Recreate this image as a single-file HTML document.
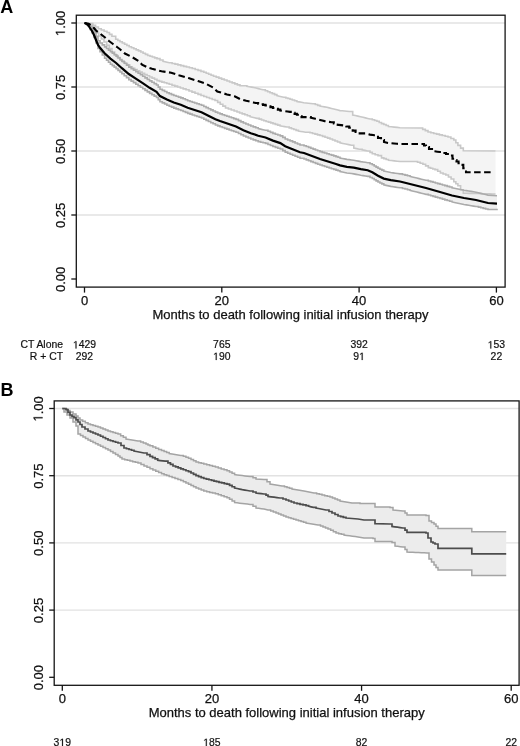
<!DOCTYPE html>
<html><head><meta charset="utf-8"><style>
html,body{margin:0;padding:0;background:#fff;width:520px;height:746px;overflow:hidden}
svg{display:block;filter:grayscale(1)}
text{font-family:"Liberation Sans",sans-serif;fill:#111}
.tl{font-size:13px;stroke:#111;stroke-width:0.25px}
.rk{font-size:10.4px;stroke:#111;stroke-width:0.2px}
.tlp{fill:#111;stroke:#111;stroke-width:0.25px;vector-effect:non-scaling-stroke}
.rkp{fill:#111;stroke:#111;stroke-width:0.2px;vector-effect:non-scaling-stroke}
.pl{font-size:18px;font-weight:bold;fill:#000}
</style></head><body>
<svg width="520" height="746" viewBox="0 0 520 746">
<rect width="520" height="746" fill="#fff"/>
<line x1="76.3" y1="23.00" x2="505.1" y2="23.00" stroke="#e2e2e2" stroke-width="1.4"/>
<line x1="76.3" y1="87.00" x2="505.1" y2="87.00" stroke="#e2e2e2" stroke-width="1.4"/>
<line x1="76.3" y1="151.00" x2="505.1" y2="151.00" stroke="#e2e2e2" stroke-width="1.4"/>
<line x1="76.3" y1="215.00" x2="505.1" y2="215.00" stroke="#e2e2e2" stroke-width="1.4"/>
<polygon points="84.5,23 90,23.5 92.8,23.5 92.8,25.2333 95.6,25.2333 95.6,26.9667 98.4,26.9667 98.4,28.7 101.267,28.7 101.267,29.9667 104.133,29.9667 104.133,31.2333 107,31.2333 107,32.5 109.45,32.5 109.45,34.4 111.9,34.4 111.9,36.3 115.7,36.3 115.7,39.2 117.85,39.2 117.85,40.45 120,40.45 120,41.7 122.3,41.7 122.3,42.95 124.6,42.95 124.6,44.2 126.9,44.2 126.9,45.45 129.2,45.45 129.2,46.7 131.525,46.7 131.525,47.75 133.85,47.75 133.85,48.8 136.175,48.8 136.175,49.85 138.5,49.85 138.5,50.9 140.8,50.9 140.8,52.05 143.1,52.05 143.1,53.2 145.4,53.2 145.4,54.35 147.7,54.35 147.7,55.5 150.025,55.5 150.025,56.275 152.35,56.275 152.35,57.05 154.675,57.05 154.675,57.825 157,57.825 157,58.6 160,58.6 160,59.95 163,59.95 163,61.3 165.067,61.7667 167.133,62.2333 169.2,62.7 172.1,62.7 172.1,63.425 175,63.425 175,64.15 177.9,64.15 177.9,64.875 180.8,64.875 180.8,65.6 183.675,65.6 183.675,66.325 186.55,66.325 186.55,67.05 189.425,67.05 189.425,67.775 192.3,67.775 192.3,68.5 195.175,68.5 195.175,69.45 198.05,69.45 198.05,70.4 200.925,70.4 200.925,71.35 203.8,71.35 203.8,72.3 206.225,72.3 206.225,73.275 208.65,73.275 208.65,74.25 211.075,74.25 211.075,75.225 213.5,75.225 213.5,76.2 216.2,76.2 216.2,77.16 218.9,77.16 218.9,78.12 221.6,78.12 221.6,79.08 224.3,79.08 224.3,80.04 227,80.04 227,81 229.6,81 229.6,81.96 232.2,81.96 232.2,82.92 234.8,82.92 234.8,83.88 237.4,83.88 237.4,84.84 240,84.84 240,85.8 246.9,85.8 246.9,86.4 249.2,86.7667 251.5,87.1333 253.8,87.5 256.1,88.075 258.4,88.65 260.7,89.225 263,89.8 265.333,89.8 265.333,90.7667 267.667,90.7667 267.667,91.7333 270,91.7333 270,92.7 272.3,92.7 272.3,93.6667 274.6,93.6667 274.6,94.6333 276.9,94.6333 276.9,95.6 279.2,96.1667 281.5,96.7333 283.8,97.3 285.867,97.3 285.867,97.9333 287.933,97.9333 287.933,98.5667 290,98.5667 290,99.2 292.3,99.2 292.3,99.9667 294.6,99.9667 294.6,100.733 296.9,100.733 296.9,101.5 299.2,101.9 301.5,102.3 303.8,102.7 306.1,102.975 308.4,103.25 310.7,103.525 313,103.8 315.333,103.8 315.333,104.567 317.667,104.567 317.667,105.333 320,105.333 320,106.1 322.3,106.5 324.6,106.9 326.9,107.3 329.2,107.867 331.5,108.433 333.8,109 335.867,109.533 337.933,110.067 340,110.6 342.3,110.825 344.6,111.05 346.9,111.275 349.2,111.5 352.7,111.5 352.7,115 355.3,115.575 357.9,116.15 360.5,116.725 363.1,117.3 365.4,117.867 367.7,118.433 370,119 372.3,119 372.3,119.767 374.6,119.767 374.6,120.533 376.9,120.533 376.9,121.3 379.2,121.3 379.2,122.45 381.5,122.45 381.5,123.6 383.8,123.6 383.8,124.567 386.1,124.567 386.1,125.533 388.4,125.533 388.4,126.5 391.3,126.8 394.2,127.1 397.1,127.4 400,127.7 420,128 422.667,128 422.667,129.333 425.333,129.333 425.333,130.667 428,130.667 428,132 430.857,132 430.857,132.714 433.714,132.714 433.714,133.429 436.571,133.429 436.571,134.143 439.429,134.143 439.429,134.857 442.286,134.857 442.286,135.571 445.143,135.571 445.143,136.286 448,136.286 448,137 450.9,137 450.9,138.5 453.8,138.5 453.8,140 455.85,140 455.85,142.7 457.9,142.7 457.9,145.4 460.6,145.4 460.6,148.1 463.3,148.1 463.3,150.8 495.5,151 495.5,194 492.573,193.927 489.645,193.855 486.718,193.782 483.791,193.709 480.864,193.636 477.936,193.564 475.009,193.491 472.082,193.418 469.155,193.345 466.227,193.273 463.3,193.2 463.3,189.8 460.6,189.8 460.6,185.8 457.9,185.8 457.9,183.75 455.85,183.75 455.85,181.7 453.8,181.7 453.8,179 451.1,179 451.1,177 448.45,177 448.45,175 445.8,175 445.8,174 443.1,174 443.1,173 440.4,173 440.4,171.3 437.7,171.3 437.7,169.6 435,169.6 435,168.933 432.767,168.933 432.767,168.267 430.533,168.267 430.533,167.6 428.3,167.6 428.3,165.9 425.6,165.9 425.6,164.2 422.9,164.2 422.9,163.2 420.2,163.2 420.2,162.2 417.5,162.2 417.5,161.5 400,161.5 397.125,161.175 394.25,160.85 391.375,160.525 388.5,160.2 388.5,159.433 386.167,159.433 386.167,158.667 383.833,158.667 383.833,157.9 381.5,157.9 381.5,155.6 378,155.6 378,154.7 375.15,154.7 375.15,153.8 372.3,153.8 372.3,152.4 370,152.4 370,151 367.7,151 364.92,150.4 362.14,149.8 362.14,149.2 359.36,149.2 356.58,148.6 353.8,148 353.8,145.2 351.5,145.2 348.625,144.625 345.75,144.05 342.875,143.475 340,142.9 340,141.925 337.5,141.925 337.5,140.95 335,140.95 335,139.975 332.5,139.975 332.5,139 330,139 330,138.125 327.5,138.125 327.5,137.25 325,137.25 325,136.375 322.5,136.375 322.5,135.5 320,135.5 320,134.825 317.5,134.825 317.5,134.15 315,134.15 315,133.475 312.5,133.475 312.5,132.8 310,132.8 310,132.2 305.4,132.2 303.067,131.833 300.733,131.467 298.4,131.1 298.4,130.333 296.1,130.333 296.1,129.567 293.8,129.567 293.8,128.8 291.5,128.8 291.5,127.9 289.2,127.9 289.2,127 286.9,127 284.6,126.633 282.3,126.267 280,125.9 280,125.133 277.667,125.133 277.667,124.367 275.333,124.367 275.333,123.6 273,123.6 273,122.875 270.7,122.875 270.7,122.15 268.4,122.15 268.4,121.425 266.1,121.425 266.1,120.7 263.8,120.7 263.8,119.933 261.5,119.933 261.5,119.167 259.2,119.167 259.2,118.4 256.9,118.4 254.6,117.833 252.3,117.267 250,116.7 250,115.76 247.4,115.76 247.4,114.82 244.8,114.82 244.8,113.88 242.2,113.88 242.2,112.94 239.6,112.94 239.6,112 237,112 237,111 234.125,111 234.125,110 231.25,110 231.25,109 228.375,109 228.375,108 225.5,108 225.5,106.125 222.875,106.125 222.875,104.25 220.25,104.25 220.25,102.375 217.625,102.375 217.625,100.5 215,100.5 215,99.5 212.2,99.5 212.2,98.5 209.4,98.5 209.4,97.5 206.6,97.5 206.6,96.5 203.8,96.5 203.8,95.5 201,95.5 201,94.36 198,94.36 198,93.22 195,93.22 195,92.08 192,92.08 192,90.94 189,90.94 189,89.8 186,89.8 186,88.8833 183.2,88.8833 183.2,87.9667 180.4,87.9667 180.4,87.05 177.6,87.05 177.6,86.1333 174.8,86.1333 174.8,85.2167 172,85.2167 172,84.3 169.2,84.3 169.2,83.56 166.76,83.56 166.76,82.82 164.32,82.82 164.32,82.08 161.88,82.08 161.88,81.34 159.44,81.34 159.44,80.6 157,80.6 157,79.38 154.52,79.38 154.52,78.16 152.04,78.16 152.04,76.94 149.56,76.94 149.56,75.72 147.08,75.72 147.08,74.5 144.6,74.5 144.6,73.26 142.14,73.26 142.14,72.02 139.68,72.02 139.68,70.78 137.22,70.78 137.22,69.54 134.76,69.54 134.76,68.3 132.3,68.3 132.3,66.7 129.84,66.7 129.84,65.1 127.38,65.1 127.38,63.5 124.92,63.5 124.92,61.9 122.46,61.9 122.46,60.3 120,60.3 120,57.5333 117.333,57.5333 117.333,54.7667 114.667,54.7667 114.667,52 112,52 112,48.6667 109.333,48.6667 109.333,45.3333 106.667,45.3333 106.667,42 104,42 104,39 101.333,39 101.333,36 98.6667,36 98.6667,33 96,33 96,29 93,29 93,25 90,25 90,24 87.25,24 87.25,23 84.5,23" fill="#f4f4f4"/>
<polygon points="84.5,23 86,23.0295 88,23.0295 88,23.9023 90,23.9023 90,26.275 92,26.275 92,28.6477 94,28.6477 94,32.0205 96,32.0205 96,36.3932 98,36.3932 98,40.7659 100,40.7659 100,42.9386 102.3,42.9386 102.3,44.9173 104.6,44.9173 104.6,46.8959 106.533,46.8959 106.533,48.4973 108.467,48.4973 108.467,50.0986 110.4,50.0986 110.4,51.7 112.3,51.7 112.3,53.1667 114.2,53.1667 114.2,54.6333 116.1,54.6333 116.1,56.1 118.033,56.1 118.033,57.8333 119.967,57.8333 119.967,59.5667 121.9,59.5667 121.9,61.3 124.2,61.3 124.2,63.2333 126.5,63.2333 126.5,65.1667 128.8,65.1667 128.8,67.1 131.133,67.1 131.133,68.6333 133.467,68.6333 133.467,70.1667 135.8,70.1667 135.8,71.7 138.1,71.7 138.1,73.2333 140.4,73.2333 140.4,74.7667 142.7,74.7667 142.7,76.3 145,76.3 145,77.8333 147.3,77.8333 147.3,79.3667 149.6,79.3667 149.6,80.9 151.9,80.9 151.9,82.2667 154.2,82.2667 154.2,83.6333 156.5,83.6333 156.5,85 158.25,85 158.25,87.1 160,87.1 160,89.2 162.3,89.2 162.3,90.3599 164.6,90.3599 164.6,91.5198 166.9,91.5198 166.9,92.6797 169.2,92.6797 169.2,93.6396 171.5,93.6396 171.5,94.5995 173.8,94.5995 173.8,95.5594 176.133,95.5594 176.133,96.3192 178.467,96.3192 178.467,97.079 180.8,97.079 180.8,97.8388 183.1,97.8388 183.1,98.7987 185.4,98.7987 185.4,99.7586 187.7,99.7586 187.7,100.719 190,100.719 190,101.478 192.3,101.478 192.3,102.238 194.6,102.238 194.6,102.998 196.9,102.998 196.9,103.758 199.2,103.758 199.2,104.518 201.5,104.518 201.5,105.278 203.8,105.278 203.8,106.438 206.1,106.438 206.1,107.598 208.4,107.598 208.4,108.758 210.733,108.758 210.733,109.884 213.067,109.884 213.067,111.011 215.4,111.011 215.4,112.137 217.7,112.137 217.7,113.03 220,113.03 220,113.924 222.286,113.924 222.286,114.703 224.571,114.703 224.571,115.482 226.857,115.482 226.857,116.261 229.143,116.261 229.143,117.039 231.429,117.039 231.429,117.818 233.714,117.818 233.714,118.597 236,118.597 236,119.376 238.467,119.376 238.467,120.603 240.933,120.603 240.933,121.829 243.4,121.829 243.4,123.055 245.867,123.055 245.867,124.047 248.333,124.047 248.333,125.04 250.8,125.04 250.8,126.033 253.267,126.033 253.267,126.859 255.733,126.859 255.733,127.685 258.2,127.685 258.2,128.511 260.633,129.104 263.067,129.697 265.5,130.29 267.967,130.29 267.967,131.316 270.433,131.316 270.433,132.342 272.9,132.342 272.9,133.368 275.367,133.368 275.367,134.194 277.833,134.194 277.833,135.02 280.3,135.02 280.3,135.846 282.75,135.846 282.75,137.389 285.2,137.389 285.2,138.932 287.667,138.932 287.667,139.925 290.133,139.925 290.133,140.917 292.6,140.917 292.6,141.91 295.067,141.91 295.067,142.936 297.533,142.936 297.533,143.962 300,143.962 300,144.988 304,144.988 304,145.676 306.286,145.676 306.286,146.527 308.571,146.527 308.571,147.377 310.857,147.377 310.857,148.228 313.143,148.228 313.143,149.078 315.429,149.078 315.429,149.929 317.714,149.929 317.714,150.779 320,150.779 320,151.629 322.286,151.629 322.286,152.337 324.571,152.337 324.571,153.045 326.857,153.045 326.857,153.752 329.143,153.752 329.143,154.46 331.429,154.46 331.429,155.167 333.714,155.167 333.714,155.875 336,155.875 336,156.582 338,156.582 338,157.276 340,157.276 340,157.971 342.3,158.43 344.6,158.89 346.9,159.35 349.2,159.644 351.5,159.937 353.8,160.23 356.133,160.69 358.467,161.15 360.8,161.609 363.1,161.969 365.4,162.329 367.7,162.689 370,162.689 370,163.732 372.3,163.732 372.3,164.776 374.2,164.776 374.2,165.937 376.1,165.937 376.1,167.098 378,167.098 378,168.259 379.933,168.259 379.933,169.186 381.867,169.186 381.867,170.114 383.8,170.114 383.8,171.042 386.133,171.535 388.467,172.028 390.8,172.521 393.1,172.864 395.4,173.208 397.7,173.551 400,173.894 402.5,173.894 402.5,174.512 405,174.512 405,175.129 407.5,175.129 407.5,175.747 410,175.747 410,176.365 412.286,176.929 414.571,177.494 416.857,178.059 419.143,178.624 421.429,179.188 423.714,179.753 426,180.318 428.333,180.318 428.333,180.977 430.667,180.977 430.667,181.637 433,181.637 433,182.297 435.333,182.297 435.333,182.957 437.667,182.957 437.667,183.617 440,183.617 440,184.276 442.4,184.276 442.4,184.969 444.8,184.969 444.8,185.662 447.2,185.662 447.2,186.355 449.6,186.355 449.6,187.048 452,187.048 452,187.741 454.4,188.234 456.8,188.727 459.2,189.22 461.6,189.713 464,190.206 466.4,190.599 468.8,190.992 471.2,191.385 473.6,191.778 476,192.171 478.4,192.764 480.8,193.356 483.2,193.949 485.6,194.542 488,195.135 497,195.709 497,210.191 497,209.565 488,209.565 488,208.958 485.6,208.958 485.6,208.351 483.2,208.351 483.2,207.744 480.8,207.744 480.8,207.136 478.4,207.136 478.4,206.529 476,206.529 473.6,206.122 471.2,205.715 468.8,205.308 466.4,204.901 464,204.494 461.6,203.987 459.2,203.48 456.8,202.973 454.4,202.466 452,201.959 452,201.252 449.6,201.252 449.6,200.545 447.2,200.545 447.2,199.838 444.8,199.838 444.8,199.131 442.4,199.131 442.4,198.424 440,198.424 440,197.75 437.667,197.75 437.667,197.076 435.333,197.076 435.333,196.403 433,196.403 433,195.729 430.667,195.729 430.667,195.056 428.333,195.056 428.333,194.382 426,194.382 423.714,193.804 421.429,193.226 419.143,192.648 416.857,192.07 414.571,191.492 412.286,190.913 410,190.335 410,189.703 407.5,189.703 407.5,189.071 405,189.071 405,188.438 402.5,188.438 402.5,187.806 400,187.806 397.7,187.449 395.4,187.092 393.1,186.736 390.8,186.379 388.467,185.872 386.133,185.365 383.8,184.858 383.8,183.919 381.867,183.919 381.867,182.98 379.933,182.98 379.933,182.041 378,182.041 378,180.869 376.1,180.869 376.1,179.697 374.2,179.697 374.2,178.524 372.3,178.524 372.3,177.468 370,177.468 370,176.411 367.7,176.411 365.4,176.037 363.1,175.664 360.8,175.291 358.467,174.817 356.133,174.344 353.8,173.87 351.5,173.563 349.2,173.256 346.9,172.95 344.6,172.476 342.3,172.003 340,171.529 340,170.824 338,170.824 338,170.118 336,170.118 336,169.397 333.714,169.397 333.714,168.676 331.429,168.676 331.429,167.955 329.143,167.955 329.143,167.234 326.857,167.234 326.857,166.513 324.571,166.513 324.571,165.792 322.286,165.792 322.286,165.071 320,165.071 320,164.207 317.714,164.207 317.714,163.343 315.429,163.343 315.429,162.479 313.143,162.479 313.143,161.615 310.857,161.615 310.857,160.751 308.571,160.751 308.571,159.887 306.286,159.887 306.286,159.024 304,159.024 304,158.312 300,158.312 300,157.271 297.533,157.271 297.533,156.231 295.067,156.231 295.067,155.19 292.6,155.19 292.6,154.183 290.133,154.183 290.133,153.175 287.667,153.175 287.667,152.168 285.2,152.168 285.2,150.611 282.75,150.611 282.75,149.054 280.3,149.054 280.3,148.213 277.833,148.213 277.833,147.373 275.367,147.373 275.367,146.532 272.9,146.532 272.9,145.491 270.433,145.491 270.433,144.451 267.967,144.451 267.967,143.41 265.5,143.41 265.5,142.803 263.067,142.803 263.067,142.196 260.633,142.196 260.633,141.589 258.2,141.589 258.2,140.748 255.733,140.748 255.733,139.908 253.267,139.908 253.267,139.067 250.8,139.067 250.8,138.06 248.333,138.06 248.333,137.053 245.867,137.053 245.867,136.045 243.4,136.045 243.4,134.805 240.933,134.805 240.933,133.564 238.467,133.564 238.467,132.324 236,132.324 236,131.531 233.714,131.531 233.714,130.739 231.429,130.739 231.429,129.946 229.143,129.946 229.143,129.154 226.857,129.154 226.857,128.361 224.571,128.361 224.571,127.569 222.286,127.569 222.286,126.776 220,126.776 220,125.87 217.7,125.87 217.7,124.963 215.4,124.963 215.4,123.823 213.067,123.823 213.067,122.683 210.733,122.683 210.733,121.542 208.4,121.542 208.4,120.369 206.1,120.369 206.1,119.195 203.8,119.195 203.8,118.022 201.5,118.022 201.5,117.249 199.2,117.249 199.2,116.475 196.9,116.475 196.9,115.702 194.6,115.702 194.6,114.928 192.3,114.928 192.3,114.155 190,114.155 190,113.381 187.7,113.381 187.7,112.408 185.4,112.408 185.4,111.435 183.1,111.435 183.1,110.461 180.8,110.461 180.8,109.688 178.467,109.688 178.467,108.914 176.133,108.914 176.133,108.141 173.8,108.141 173.8,107.167 171.5,107.167 171.5,106.194 169.2,106.194 169.2,105.22 166.9,105.22 166.9,104.047 164.6,104.047 164.6,102.873 162.3,102.873 162.3,101.7 160,101.7 160,99.6 158.25,99.6 158.25,97.5 156.5,97.5 156.5,96.1333 154.2,96.1333 154.2,94.7667 151.9,94.7667 151.9,93.4 149.6,93.4 149.6,91.8667 147.3,91.8667 147.3,90.3333 145,90.3333 145,88.8 142.7,88.8 142.7,87.2667 140.4,87.2667 140.4,85.7333 138.1,85.7333 138.1,84.2 135.8,84.2 135.8,82.6667 133.467,82.6667 133.467,81.1333 131.133,81.1333 131.133,79.6 128.8,79.6 128.8,77.6667 126.5,77.6667 126.5,75.7333 124.2,75.7333 124.2,73.8 121.9,73.8 121.9,72.0667 119.967,72.0667 119.967,70.3333 118.033,70.3333 118.033,68.6 116.1,68.6 116.1,67.1333 114.2,67.1333 114.2,65.6667 112.3,65.6667 112.3,64.2 110.4,64.2 110.4,62.2388 108.467,62.2388 108.467,60.2776 106.533,60.2776 106.533,58.3164 104.6,58.3164 104.6,55.0309 102.3,55.0309 102.3,51.7455 100,51.7455 100,48.4364 98,48.4364 98,42.9273 96,42.9273 96,37.4182 94,37.4182 94,32.9091 92,32.9091 92,29.4 90,29.4 90,25.8909 88,25.8909 88,23.8818 86,23.8818 86,23 84.5,23" fill="#efefef"/>
<polyline points="84.5,23 90,23.5 92.8,23.5 92.8,25.2333 95.6,25.2333 95.6,26.9667 98.4,26.9667 98.4,28.7 101.267,28.7 101.267,29.9667 104.133,29.9667 104.133,31.2333 107,31.2333 107,32.5 109.45,32.5 109.45,34.4 111.9,34.4 111.9,36.3 115.7,36.3 115.7,39.2 117.85,39.2 117.85,40.45 120,40.45 120,41.7 122.3,41.7 122.3,42.95 124.6,42.95 124.6,44.2 126.9,44.2 126.9,45.45 129.2,45.45 129.2,46.7 131.525,46.7 131.525,47.75 133.85,47.75 133.85,48.8 136.175,48.8 136.175,49.85 138.5,49.85 138.5,50.9 140.8,50.9 140.8,52.05 143.1,52.05 143.1,53.2 145.4,53.2 145.4,54.35 147.7,54.35 147.7,55.5 150.025,55.5 150.025,56.275 152.35,56.275 152.35,57.05 154.675,57.05 154.675,57.825 157,57.825 157,58.6 160,58.6 160,59.95 163,59.95 163,61.3 165.067,61.7667 167.133,62.2333 169.2,62.7 172.1,62.7 172.1,63.425 175,63.425 175,64.15 177.9,64.15 177.9,64.875 180.8,64.875 180.8,65.6 183.675,65.6 183.675,66.325 186.55,66.325 186.55,67.05 189.425,67.05 189.425,67.775 192.3,67.775 192.3,68.5 195.175,68.5 195.175,69.45 198.05,69.45 198.05,70.4 200.925,70.4 200.925,71.35 203.8,71.35 203.8,72.3 206.225,72.3 206.225,73.275 208.65,73.275 208.65,74.25 211.075,74.25 211.075,75.225 213.5,75.225 213.5,76.2 216.2,76.2 216.2,77.16 218.9,77.16 218.9,78.12 221.6,78.12 221.6,79.08 224.3,79.08 224.3,80.04 227,80.04 227,81 229.6,81 229.6,81.96 232.2,81.96 232.2,82.92 234.8,82.92 234.8,83.88 237.4,83.88 237.4,84.84 240,84.84 240,85.8 246.9,85.8 246.9,86.4 249.2,86.7667 251.5,87.1333 253.8,87.5 256.1,88.075 258.4,88.65 260.7,89.225 263,89.8 265.333,89.8 265.333,90.7667 267.667,90.7667 267.667,91.7333 270,91.7333 270,92.7 272.3,92.7 272.3,93.6667 274.6,93.6667 274.6,94.6333 276.9,94.6333 276.9,95.6 279.2,96.1667 281.5,96.7333 283.8,97.3 285.867,97.3 285.867,97.9333 287.933,97.9333 287.933,98.5667 290,98.5667 290,99.2 292.3,99.2 292.3,99.9667 294.6,99.9667 294.6,100.733 296.9,100.733 296.9,101.5 299.2,101.9 301.5,102.3 303.8,102.7 306.1,102.975 308.4,103.25 310.7,103.525 313,103.8 315.333,103.8 315.333,104.567 317.667,104.567 317.667,105.333 320,105.333 320,106.1 322.3,106.5 324.6,106.9 326.9,107.3 329.2,107.867 331.5,108.433 333.8,109 335.867,109.533 337.933,110.067 340,110.6 342.3,110.825 344.6,111.05 346.9,111.275 349.2,111.5 352.7,111.5 352.7,115 355.3,115.575 357.9,116.15 360.5,116.725 363.1,117.3 365.4,117.867 367.7,118.433 370,119 372.3,119 372.3,119.767 374.6,119.767 374.6,120.533 376.9,120.533 376.9,121.3 379.2,121.3 379.2,122.45 381.5,122.45 381.5,123.6 383.8,123.6 383.8,124.567 386.1,124.567 386.1,125.533 388.4,125.533 388.4,126.5 391.3,126.8 394.2,127.1 397.1,127.4 400,127.7 420,128 422.667,128 422.667,129.333 425.333,129.333 425.333,130.667 428,130.667 428,132 430.857,132 430.857,132.714 433.714,132.714 433.714,133.429 436.571,133.429 436.571,134.143 439.429,134.143 439.429,134.857 442.286,134.857 442.286,135.571 445.143,135.571 445.143,136.286 448,136.286 448,137 450.9,137 450.9,138.5 453.8,138.5 453.8,140 455.85,140 455.85,142.7 457.9,142.7 457.9,145.4 460.6,145.4 460.6,148.1 463.3,148.1 463.3,150.8 495.5,151" fill="none" stroke="#c8c8c8" stroke-width="1.6"/>
<polyline points="84.5,23 87.25,23 87.25,24 90,24 90,25 93,25 93,29 96,29 96,33 98.6667,33 98.6667,36 101.333,36 101.333,39 104,39 104,42 106.667,42 106.667,45.3333 109.333,45.3333 109.333,48.6667 112,48.6667 112,52 114.667,52 114.667,54.7667 117.333,54.7667 117.333,57.5333 120,57.5333 120,60.3 122.46,60.3 122.46,61.9 124.92,61.9 124.92,63.5 127.38,63.5 127.38,65.1 129.84,65.1 129.84,66.7 132.3,66.7 132.3,68.3 134.76,68.3 134.76,69.54 137.22,69.54 137.22,70.78 139.68,70.78 139.68,72.02 142.14,72.02 142.14,73.26 144.6,73.26 144.6,74.5 147.08,74.5 147.08,75.72 149.56,75.72 149.56,76.94 152.04,76.94 152.04,78.16 154.52,78.16 154.52,79.38 157,79.38 157,80.6 159.44,80.6 159.44,81.34 161.88,81.34 161.88,82.08 164.32,82.08 164.32,82.82 166.76,82.82 166.76,83.56 169.2,83.56 169.2,84.3 172,84.3 172,85.2167 174.8,85.2167 174.8,86.1333 177.6,86.1333 177.6,87.05 180.4,87.05 180.4,87.9667 183.2,87.9667 183.2,88.8833 186,88.8833 186,89.8 189,89.8 189,90.94 192,90.94 192,92.08 195,92.08 195,93.22 198,93.22 198,94.36 201,94.36 201,95.5 203.8,95.5 203.8,96.5 206.6,96.5 206.6,97.5 209.4,97.5 209.4,98.5 212.2,98.5 212.2,99.5 215,99.5 215,100.5 217.625,100.5 217.625,102.375 220.25,102.375 220.25,104.25 222.875,104.25 222.875,106.125 225.5,106.125 225.5,108 228.375,108 228.375,109 231.25,109 231.25,110 234.125,110 234.125,111 237,111 237,112 239.6,112 239.6,112.94 242.2,112.94 242.2,113.88 244.8,113.88 244.8,114.82 247.4,114.82 247.4,115.76 250,115.76 250,116.7 252.3,117.267 254.6,117.833 256.9,118.4 259.2,118.4 259.2,119.167 261.5,119.167 261.5,119.933 263.8,119.933 263.8,120.7 266.1,120.7 266.1,121.425 268.4,121.425 268.4,122.15 270.7,122.15 270.7,122.875 273,122.875 273,123.6 275.333,123.6 275.333,124.367 277.667,124.367 277.667,125.133 280,125.133 280,125.9 282.3,126.267 284.6,126.633 286.9,127 289.2,127 289.2,127.9 291.5,127.9 291.5,128.8 293.8,128.8 293.8,129.567 296.1,129.567 296.1,130.333 298.4,130.333 298.4,131.1 300.733,131.467 303.067,131.833 305.4,132.2 310,132.2 310,132.8 312.5,132.8 312.5,133.475 315,133.475 315,134.15 317.5,134.15 317.5,134.825 320,134.825 320,135.5 322.5,135.5 322.5,136.375 325,136.375 325,137.25 327.5,137.25 327.5,138.125 330,138.125 330,139 332.5,139 332.5,139.975 335,139.975 335,140.95 337.5,140.95 337.5,141.925 340,141.925 340,142.9 342.875,143.475 345.75,144.05 348.625,144.625 351.5,145.2 353.8,145.2 353.8,148 356.58,148.6 359.36,149.2 362.14,149.2 362.14,149.8 364.92,150.4 367.7,151 370,151 370,152.4 372.3,152.4 372.3,153.8 375.15,153.8 375.15,154.7 378,154.7 378,155.6 381.5,155.6 381.5,157.9 383.833,157.9 383.833,158.667 386.167,158.667 386.167,159.433 388.5,159.433 388.5,160.2 391.375,160.525 394.25,160.85 397.125,161.175 400,161.5 417.5,161.5 417.5,162.2 420.2,162.2 420.2,163.2 422.9,163.2 422.9,164.2 425.6,164.2 425.6,165.9 428.3,165.9 428.3,167.6 430.533,167.6 430.533,168.267 432.767,168.267 432.767,168.933 435,168.933 435,169.6 437.7,169.6 437.7,171.3 440.4,171.3 440.4,173 443.1,173 443.1,174 445.8,174 445.8,175 448.45,175 448.45,177 451.1,177 451.1,179 453.8,179 453.8,181.7 455.85,181.7 455.85,183.75 457.9,183.75 457.9,185.8 460.6,185.8 460.6,189.8 463.3,189.8 463.3,193.2 466.227,193.273 469.155,193.345 472.082,193.418 475.009,193.491 477.936,193.564 480.864,193.636 483.791,193.709 486.718,193.782 489.645,193.855 492.573,193.927 495.5,194" fill="none" stroke="#c8c8c8" stroke-width="1.6"/>
<polyline points="84.5,23 86,23.0295 88,23.0295 88,23.9023 90,23.9023 90,26.275 92,26.275 92,28.6477 94,28.6477 94,32.0205 96,32.0205 96,36.3932 98,36.3932 98,40.7659 100,40.7659 100,42.9386 102.3,42.9386 102.3,44.9173 104.6,44.9173 104.6,46.8959 106.533,46.8959 106.533,48.4973 108.467,48.4973 108.467,50.0986 110.4,50.0986 110.4,51.7 112.3,51.7 112.3,53.1667 114.2,53.1667 114.2,54.6333 116.1,54.6333 116.1,56.1 118.033,56.1 118.033,57.8333 119.967,57.8333 119.967,59.5667 121.9,59.5667 121.9,61.3 124.2,61.3 124.2,63.2333 126.5,63.2333 126.5,65.1667 128.8,65.1667 128.8,67.1 131.133,67.1 131.133,68.6333 133.467,68.6333 133.467,70.1667 135.8,70.1667 135.8,71.7 138.1,71.7 138.1,73.2333 140.4,73.2333 140.4,74.7667 142.7,74.7667 142.7,76.3 145,76.3 145,77.8333 147.3,77.8333 147.3,79.3667 149.6,79.3667 149.6,80.9 151.9,80.9 151.9,82.2667 154.2,82.2667 154.2,83.6333 156.5,83.6333 156.5,85 158.25,85 158.25,87.1 160,87.1 160,89.2 162.3,89.2 162.3,90.3599 164.6,90.3599 164.6,91.5198 166.9,91.5198 166.9,92.6797 169.2,92.6797 169.2,93.6396 171.5,93.6396 171.5,94.5995 173.8,94.5995 173.8,95.5594 176.133,95.5594 176.133,96.3192 178.467,96.3192 178.467,97.079 180.8,97.079 180.8,97.8388 183.1,97.8388 183.1,98.7987 185.4,98.7987 185.4,99.7586 187.7,99.7586 187.7,100.719 190,100.719 190,101.478 192.3,101.478 192.3,102.238 194.6,102.238 194.6,102.998 196.9,102.998 196.9,103.758 199.2,103.758 199.2,104.518 201.5,104.518 201.5,105.278 203.8,105.278 203.8,106.438 206.1,106.438 206.1,107.598 208.4,107.598 208.4,108.758 210.733,108.758 210.733,109.884 213.067,109.884 213.067,111.011 215.4,111.011 215.4,112.137 217.7,112.137 217.7,113.03 220,113.03 220,113.924 222.286,113.924 222.286,114.703 224.571,114.703 224.571,115.482 226.857,115.482 226.857,116.261 229.143,116.261 229.143,117.039 231.429,117.039 231.429,117.818 233.714,117.818 233.714,118.597 236,118.597 236,119.376 238.467,119.376 238.467,120.603 240.933,120.603 240.933,121.829 243.4,121.829 243.4,123.055 245.867,123.055 245.867,124.047 248.333,124.047 248.333,125.04 250.8,125.04 250.8,126.033 253.267,126.033 253.267,126.859 255.733,126.859 255.733,127.685 258.2,127.685 258.2,128.511 260.633,129.104 263.067,129.697 265.5,130.29 267.967,130.29 267.967,131.316 270.433,131.316 270.433,132.342 272.9,132.342 272.9,133.368 275.367,133.368 275.367,134.194 277.833,134.194 277.833,135.02 280.3,135.02 280.3,135.846 282.75,135.846 282.75,137.389 285.2,137.389 285.2,138.932 287.667,138.932 287.667,139.925 290.133,139.925 290.133,140.917 292.6,140.917 292.6,141.91 295.067,141.91 295.067,142.936 297.533,142.936 297.533,143.962 300,143.962 300,144.988 304,144.988 304,145.676 306.286,145.676 306.286,146.527 308.571,146.527 308.571,147.377 310.857,147.377 310.857,148.228 313.143,148.228 313.143,149.078 315.429,149.078 315.429,149.929 317.714,149.929 317.714,150.779 320,150.779 320,151.629 322.286,151.629 322.286,152.337 324.571,152.337 324.571,153.045 326.857,153.045 326.857,153.752 329.143,153.752 329.143,154.46 331.429,154.46 331.429,155.167 333.714,155.167 333.714,155.875 336,155.875 336,156.582 338,156.582 338,157.276 340,157.276 340,157.971 342.3,158.43 344.6,158.89 346.9,159.35 349.2,159.644 351.5,159.937 353.8,160.23 356.133,160.69 358.467,161.15 360.8,161.609 363.1,161.969 365.4,162.329 367.7,162.689 370,162.689 370,163.732 372.3,163.732 372.3,164.776 374.2,164.776 374.2,165.937 376.1,165.937 376.1,167.098 378,167.098 378,168.259 379.933,168.259 379.933,169.186 381.867,169.186 381.867,170.114 383.8,170.114 383.8,171.042 386.133,171.535 388.467,172.028 390.8,172.521 393.1,172.864 395.4,173.208 397.7,173.551 400,173.894 402.5,173.894 402.5,174.512 405,174.512 405,175.129 407.5,175.129 407.5,175.747 410,175.747 410,176.365 412.286,176.929 414.571,177.494 416.857,178.059 419.143,178.624 421.429,179.188 423.714,179.753 426,180.318 428.333,180.318 428.333,180.977 430.667,180.977 430.667,181.637 433,181.637 433,182.297 435.333,182.297 435.333,182.957 437.667,182.957 437.667,183.617 440,183.617 440,184.276 442.4,184.276 442.4,184.969 444.8,184.969 444.8,185.662 447.2,185.662 447.2,186.355 449.6,186.355 449.6,187.048 452,187.048 452,187.741 454.4,188.234 456.8,188.727 459.2,189.22 461.6,189.713 464,190.206 466.4,190.599 468.8,190.992 471.2,191.385 473.6,191.778 476,192.171 478.4,192.764 480.8,193.356 483.2,193.949 485.6,194.542 488,195.135 497,195.709" fill="none" stroke="#ababab" stroke-width="1.6"/>
<polyline points="84.5,23 86,23 86,23.8818 88,23.8818 88,25.8909 90,25.8909 90,29.4 92,29.4 92,32.9091 94,32.9091 94,37.4182 96,37.4182 96,42.9273 98,42.9273 98,48.4364 100,48.4364 100,51.7455 102.3,51.7455 102.3,55.0309 104.6,55.0309 104.6,58.3164 106.533,58.3164 106.533,60.2776 108.467,60.2776 108.467,62.2388 110.4,62.2388 110.4,64.2 112.3,64.2 112.3,65.6667 114.2,65.6667 114.2,67.1333 116.1,67.1333 116.1,68.6 118.033,68.6 118.033,70.3333 119.967,70.3333 119.967,72.0667 121.9,72.0667 121.9,73.8 124.2,73.8 124.2,75.7333 126.5,75.7333 126.5,77.6667 128.8,77.6667 128.8,79.6 131.133,79.6 131.133,81.1333 133.467,81.1333 133.467,82.6667 135.8,82.6667 135.8,84.2 138.1,84.2 138.1,85.7333 140.4,85.7333 140.4,87.2667 142.7,87.2667 142.7,88.8 145,88.8 145,90.3333 147.3,90.3333 147.3,91.8667 149.6,91.8667 149.6,93.4 151.9,93.4 151.9,94.7667 154.2,94.7667 154.2,96.1333 156.5,96.1333 156.5,97.5 158.25,97.5 158.25,99.6 160,99.6 160,101.7 162.3,101.7 162.3,102.873 164.6,102.873 164.6,104.047 166.9,104.047 166.9,105.22 169.2,105.22 169.2,106.194 171.5,106.194 171.5,107.167 173.8,107.167 173.8,108.141 176.133,108.141 176.133,108.914 178.467,108.914 178.467,109.688 180.8,109.688 180.8,110.461 183.1,110.461 183.1,111.435 185.4,111.435 185.4,112.408 187.7,112.408 187.7,113.381 190,113.381 190,114.155 192.3,114.155 192.3,114.928 194.6,114.928 194.6,115.702 196.9,115.702 196.9,116.475 199.2,116.475 199.2,117.249 201.5,117.249 201.5,118.022 203.8,118.022 203.8,119.195 206.1,119.195 206.1,120.369 208.4,120.369 208.4,121.542 210.733,121.542 210.733,122.683 213.067,122.683 213.067,123.823 215.4,123.823 215.4,124.963 217.7,124.963 217.7,125.87 220,125.87 220,126.776 222.286,126.776 222.286,127.569 224.571,127.569 224.571,128.361 226.857,128.361 226.857,129.154 229.143,129.154 229.143,129.946 231.429,129.946 231.429,130.739 233.714,130.739 233.714,131.531 236,131.531 236,132.324 238.467,132.324 238.467,133.564 240.933,133.564 240.933,134.805 243.4,134.805 243.4,136.045 245.867,136.045 245.867,137.053 248.333,137.053 248.333,138.06 250.8,138.06 250.8,139.067 253.267,139.067 253.267,139.908 255.733,139.908 255.733,140.748 258.2,140.748 258.2,141.589 260.633,141.589 260.633,142.196 263.067,142.196 263.067,142.803 265.5,142.803 265.5,143.41 267.967,143.41 267.967,144.451 270.433,144.451 270.433,145.491 272.9,145.491 272.9,146.532 275.367,146.532 275.367,147.373 277.833,147.373 277.833,148.213 280.3,148.213 280.3,149.054 282.75,149.054 282.75,150.611 285.2,150.611 285.2,152.168 287.667,152.168 287.667,153.175 290.133,153.175 290.133,154.183 292.6,154.183 292.6,155.19 295.067,155.19 295.067,156.231 297.533,156.231 297.533,157.271 300,157.271 300,158.312 304,158.312 304,159.024 306.286,159.024 306.286,159.887 308.571,159.887 308.571,160.751 310.857,160.751 310.857,161.615 313.143,161.615 313.143,162.479 315.429,162.479 315.429,163.343 317.714,163.343 317.714,164.207 320,164.207 320,165.071 322.286,165.071 322.286,165.792 324.571,165.792 324.571,166.513 326.857,166.513 326.857,167.234 329.143,167.234 329.143,167.955 331.429,167.955 331.429,168.676 333.714,168.676 333.714,169.397 336,169.397 336,170.118 338,170.118 338,170.824 340,170.824 340,171.529 342.3,172.003 344.6,172.476 346.9,172.95 349.2,173.256 351.5,173.563 353.8,173.87 356.133,174.344 358.467,174.817 360.8,175.291 363.1,175.664 365.4,176.037 367.7,176.411 370,176.411 370,177.468 372.3,177.468 372.3,178.524 374.2,178.524 374.2,179.697 376.1,179.697 376.1,180.869 378,180.869 378,182.041 379.933,182.041 379.933,182.98 381.867,182.98 381.867,183.919 383.8,183.919 383.8,184.858 386.133,185.365 388.467,185.872 390.8,186.379 393.1,186.736 395.4,187.092 397.7,187.449 400,187.806 402.5,187.806 402.5,188.438 405,188.438 405,189.071 407.5,189.071 407.5,189.703 410,189.703 410,190.335 412.286,190.913 414.571,191.492 416.857,192.07 419.143,192.648 421.429,193.226 423.714,193.804 426,194.382 428.333,194.382 428.333,195.056 430.667,195.056 430.667,195.729 433,195.729 433,196.403 435.333,196.403 435.333,197.076 437.667,197.076 437.667,197.75 440,197.75 440,198.424 442.4,198.424 442.4,199.131 444.8,199.131 444.8,199.838 447.2,199.838 447.2,200.545 449.6,200.545 449.6,201.252 452,201.252 452,201.959 454.4,202.466 456.8,202.973 459.2,203.48 461.6,203.987 464,204.494 466.4,204.901 468.8,205.308 471.2,205.715 473.6,206.122 476,206.529 478.4,206.529 478.4,207.136 480.8,207.136 480.8,207.744 483.2,207.744 483.2,208.351 485.6,208.351 485.6,208.958 488,208.958 488,209.565 497,209.565 497,210.191" fill="none" stroke="#ababab" stroke-width="1.6"/>
<polyline points="84.5,23 86,23.5 88,25 90,28 92,31 94,35 96,40 98,45 100,47.8 104.6,53.2 110.4,58.6 116.1,63 121.9,68.2 128.8,74 135.8,78.6 142.7,83.2 149.6,87.8 156.5,91.9 160,96.1 166.9,99.6 173.8,102.5 180.8,104.8 187.7,107.7 194.6,110 201.5,112.3 208.4,115.8 215.4,119.2 220,121 236,126.5 243.4,130.2 250.8,133.2 258.2,135.7 265.5,137.5 272.9,140.6 280.3,143.1 285.2,146.2 292.6,149.2 300,152.3 304,153 320,159 336,164 340,165.4 346.9,166.8 353.8,167.7 360.8,169.1 367.7,170.2 372.3,172.3 378,175.8 383.8,178.6 390.8,180.1 400,181.5 410,184 426,188 440,192 452,195.5 464,198 476,200 488,203 497,203.6" fill="none" stroke="#000" stroke-width="2.2"/>
<polyline points="84.5,23 89,24 93,27 96,30.5 100,33.5 105,37.5 109,41 113,44 117,47 120,49.2 124.9,53.5 132.3,57.2 138.5,61 142,64.6 148.3,67.7 152,68.8 161.5,71.3 171.2,72.7 178.8,75.2 188.5,78.1 198,81 205.8,83.8 213.5,87.7 217.3,91.5 227,94.4 234.6,96.3 240.4,99.2 246.2,100.8 248.575,101.35 250.95,101.9 253.325,102.45 255.7,103 258.15,103 258.15,103.625 260.6,103.625 260.6,104.25 263.05,104.25 263.05,104.875 265.5,104.875 265.5,105.5 267.967,105.5 267.967,106.333 270.433,106.333 270.433,107.167 272.9,107.167 272.9,108 275.367,108 275.367,108.833 277.833,108.833 277.833,109.667 280.3,109.667 280.3,110.5 282.725,110.85 285.15,111.2 287.575,111.55 290,111.9 292.3,111.9 292.3,112.867 294.6,112.867 294.6,113.833 296.9,113.833 296.9,114.8 299.2,114.8 299.2,115.95 301.5,115.95 301.5,117.1 310.8,117.1 310.8,117.7 313.1,118.267 315.4,118.833 317.7,119.4 320,119.967 322.3,120.533 324.6,121.1 326.9,121.5 329.2,121.9 331.5,122.3 333.8,122.3 333.8,123.45 336.1,123.45 336.1,124.6 338.567,124.867 341.033,125.133 343.5,125.4 346.35,125.4 346.35,126.55 349.2,126.55 349.2,127.7 352.7,127.7 352.7,130.6 355.6,130.6 355.6,132 358.5,132 358.5,133.4 365.4,133.4 367.7,134 370,134.6 374.6,135.2 378,135.2 378,138 381,138 381,140 384,140 384,142 386,142.5 388,143 391,143.25 394,143.5 397,143.75 400,144 422,144 424,144 424,145.5 426,145.5 426,147 429,147 429,149 432,149 432,151 434.667,151.333 437.333,151.667 440,152 443,152 443,153 446,153 446,154 449.8,154 449.8,155.5 452.5,155.5 452.5,158.8 454.5,158.8 454.5,160.15 456.5,160.15 456.5,161.5 458.55,161.5 458.55,163.2 460.6,163.2 460.6,164.9 463.3,164.9 463.3,168.3 466,168.3 466,172.3 491.5,172.3 491.5,175" fill="none" stroke="#000" stroke-width="2.1" stroke-dasharray="6.5 3.5"/>
<rect x="76.3" y="15.2" width="428.8" height="271.90000000000003" fill="none" stroke="#141414" stroke-width="1.3"/>
<line x1="71.3" y1="23.00" x2="76.3" y2="23.00" stroke="#141414" stroke-width="1.3"/>
<g transform="translate(64.8,23.40) rotate(-90)"><path d="M515,0L515,1237L197,1010L197,1180L530,1409L696,1409L696,0Z" transform="translate(-12.65,0) scale(0.00635,-0.00635)" class="tlp"/><text x="-5.42" y="0" class="tl">.00</text></g>
<line x1="71.3" y1="87.00" x2="76.3" y2="87.00" stroke="#141414" stroke-width="1.3"/>
<g transform="translate(64.8,87.40) rotate(-90)"><text x="-12.65" y="0" class="tl">0.75</text></g>
<line x1="71.3" y1="151.00" x2="76.3" y2="151.00" stroke="#141414" stroke-width="1.3"/>
<g transform="translate(64.8,151.40) rotate(-90)"><text x="-12.65" y="0" class="tl">0.50</text></g>
<line x1="71.3" y1="215.00" x2="76.3" y2="215.00" stroke="#141414" stroke-width="1.3"/>
<g transform="translate(64.8,215.40) rotate(-90)"><text x="-12.65" y="0" class="tl">0.25</text></g>
<line x1="71.3" y1="279.00" x2="76.3" y2="279.00" stroke="#141414" stroke-width="1.3"/>
<g transform="translate(64.8,279.40) rotate(-90)"><text x="-12.65" y="0" class="tl">0.00</text></g>
<line x1="84.50" y1="287.1" x2="84.50" y2="292.6" stroke="#141414" stroke-width="1.3"/>
<text x="84.50" y="304.8" text-anchor="middle" class="tl">0</text>
<line x1="221.80" y1="287.1" x2="221.80" y2="292.6" stroke="#141414" stroke-width="1.3"/>
<text x="221.80" y="304.8" text-anchor="middle" class="tl">20</text>
<line x1="359.10" y1="287.1" x2="359.10" y2="292.6" stroke="#141414" stroke-width="1.3"/>
<text x="359.10" y="304.8" text-anchor="middle" class="tl">40</text>
<line x1="496.40" y1="287.1" x2="496.40" y2="292.6" stroke="#141414" stroke-width="1.3"/>
<text x="496.40" y="304.8" text-anchor="middle" class="tl">60</text>
<text x="290.5" y="318.8" text-anchor="middle" class="tl">Months to death following initial infusion therapy</text>
<text x="0.3" y="12.6" class="pl">A</text>
<text x="63" y="348.4" text-anchor="end" class="rk">CT Alone</text>
<text x="63" y="360" text-anchor="end" class="rk">R + CT</text>
<path d="M515,0L515,1237L197,1010L197,1180L530,1409L696,1409L696,0Z" transform="translate(72.93,348.4) scale(0.00508,-0.00508)" class="rkp"/><text x="78.72" y="348.4" class="rk">429</text>
<text x="75.82" y="360" class="rk">292</text>
<text x="213.12" y="348.4" class="rk">765</text>
<path d="M515,0L515,1237L197,1010L197,1180L530,1409L696,1409L696,0Z" transform="translate(213.12,360) scale(0.00508,-0.00508)" class="rkp"/><text x="218.91" y="360" class="rk">90</text>
<text x="350.42" y="348.4" class="rk">392</text>
<text x="353.32" y="360" class="rk">9</text><path d="M515,0L515,1237L197,1010L197,1180L530,1409L696,1409L696,0Z" transform="translate(359.10,360) scale(0.00508,-0.00508)" class="rkp"/>
<path d="M515,0L515,1237L197,1010L197,1180L530,1409L696,1409L696,0Z" transform="translate(487.72,348.4) scale(0.00508,-0.00508)" class="rkp"/><text x="493.51" y="348.4" class="rk">53</text>
<text x="490.62" y="360" class="rk">22</text>
<line x1="54.2" y1="408.50" x2="519.1" y2="408.50" stroke="#e2e2e2" stroke-width="1.4"/>
<line x1="54.2" y1="475.70" x2="519.1" y2="475.70" stroke="#e2e2e2" stroke-width="1.4"/>
<line x1="54.2" y1="542.90" x2="519.1" y2="542.90" stroke="#e2e2e2" stroke-width="1.4"/>
<line x1="54.2" y1="610.10" x2="519.1" y2="610.10" stroke="#e2e2e2" stroke-width="1.4"/>
<polygon points="62.3,408.5 64,409 67,409 67,410.5 70,410.5 70,412 73,412 73,414 76,414 76,416 78,416 78,418 80,418 80,420 82.6667,420 82.6667,421.333 85.3333,421.333 85.3333,422.667 88,422.667 88,424 90.5,424 90.5,424.75 93,424.75 93,425.5 95.5,425.5 95.5,426.25 98,426.25 98,427 100.5,427 100.5,428 103,428 103,429 105.5,429 105.5,430 108,430 108,431 110.5,431 110.5,431.75 113,431.75 113,432.5 115.5,432.5 115.5,433.25 118,433.25 118,434 120.667,434 120.667,435.667 123.333,435.667 123.333,437.333 126,437.333 126,439 129,439.5 132,440 135,440.5 138,441 140.667,441 140.667,442 143.333,442 143.333,443 146,443 146,444 148,444 148,444.9 150,444.9 150,445.8 152.875,445.8 152.875,447 155.75,447 155.75,448.2 158.625,448.2 158.625,449.4 161.5,449.4 161.5,450.6 164.067,450.6 164.067,451.567 166.633,451.567 166.633,452.533 169.2,452.533 169.2,453.5 172.1,453.975 175,454.45 177.9,454.925 180.8,455.4 183.367,455.4 183.367,456.367 185.933,456.367 185.933,457.333 188.5,457.333 188.5,458.3 191,458.3 191,459.533 193.5,459.533 193.5,460.767 196,460.767 196,462 198.6,462 198.6,462.667 201.2,462.667 201.2,463.333 203.8,463.333 203.8,464 206.7,464 206.7,464.75 209.6,464.75 209.6,465.5 212.5,465.5 212.5,466.25 215.4,466.25 215.4,467 218.3,467 218.3,467.95 221.2,467.95 221.2,468.9 224.1,468.9 224.1,469.85 227,469.85 227,470.8 229.533,470.8 229.533,472.067 232.067,472.067 232.067,473.333 234.6,473.333 234.6,474.6 237.167,474.933 239.733,475.267 242.3,475.6 244.867,475.9 247.433,476.2 250,476.5 253,476.5 253,477.75 256,477.75 256,479 264,479.5 267,479.5 267,481.75 270,481.75 270,484 273,484.5 276,485 279,485.5 282,486 284.5,486 284.5,486.75 287,486.75 287,487.5 289.5,487.5 289.5,488.25 292,488.25 292,489 295,489.5 298,490 301,490.5 304,491 306.5,491.5 309,492 311.5,492.5 314,493 316.667,493 316.667,493.667 319.333,493.667 319.333,494.333 322,494.333 322,495 324.667,495 324.667,495.667 327.333,495.667 327.333,496.333 330,496.333 330,497 332.5,497 332.5,498 335,498 335,499 337.5,499 337.5,500 340,500 340,501 343,501.5 346,502 349,502.5 352,503 360,503 360,503.6 373,503.6 375,503.6 375,507 390,507 390,507.6 393,507.6 393,510 395.5,510.25 398,510.5 400.5,510.75 403,511 405,511 405,513 407,513 407,515 426,515 426,515.6 429,515.6 429,521 431.5,521 431.5,522.5 434,522.5 434,524 436,524 436,526.2 438,526.2 438,528.4 471.8,528.4 471.8,531.8 506.2,531.8 506.2,575.6 471.8,575.6 471.8,570 438,570 438,567.5 436,567.5 436,565 434,565 434,562 431.5,562 431.5,559 429,559 429,553 427,553 424.143,552.857 421.286,552.714 418.429,552.571 415.571,552.429 412.714,552.286 409.857,552.143 407,552 407,549.5 405,549.5 405,547 403,547 400.333,546.667 397.667,546.333 395,546 395,542.4 392,542.4 392,541.6 375,541.6 375,538.6 373,538.6 373,538 364,538 361,537.5 358,537 355.2,536.6 352.4,536.2 349.6,535.8 346.8,535.4 344,535 344,534.333 341.333,534.333 341.333,533.667 338.667,533.667 338.667,533 336,533 336,531.667 333.333,531.667 333.333,530.333 330.667,530.333 330.667,529 328,529 328,528 325.5,528 325.5,527 323,527 323,526 320.5,526 320.5,525 318,525 315,524.5 312,524 309,523.5 306,523 306,522.25 303.5,522.25 303.5,521.5 301,521.5 301,520.75 298.5,520.75 298.5,520 296,520 296,519.25 293.5,519.25 293.5,518.5 291,518.5 291,517.75 288.5,517.75 288.5,517 286,517 286,516 283.5,516 283.5,515 281,515 281,514 278.5,514 278.5,513 276,513 276,512 273.333,512 273.333,511 270.667,511 270.667,510 268,510 266,509.5 264,509 261.333,508.667 258.667,508.333 256,508 256,506.2 253,506.2 253,504.4 250,504.4 247.433,504.1 244.867,503.8 242.3,503.5 239.733,503.167 237.167,502.833 234.6,502.5 234.6,500.9 232.067,500.9 232.067,499.3 229.533,499.3 229.533,497.7 227,497.7 227,496.725 224.1,496.725 224.1,495.75 221.2,495.75 221.2,494.775 218.3,494.775 218.3,493.8 215.4,493.8 215.4,493.1 212.5,493.1 212.5,492.4 209.6,492.4 209.6,491.7 206.7,491.7 206.7,491 203.8,491 203.8,490 201.2,490 201.2,489 198.6,489 198.6,488 196,488 196,486.733 193.5,486.733 193.5,485.467 191,485.467 191,484.2 188.5,484.2 188.5,482.933 185.933,482.933 185.933,481.667 183.367,481.667 183.367,480.4 180.8,480.4 180.8,479.425 177.9,479.425 177.9,478.45 175,478.45 175,477.475 172.1,477.475 172.1,476.5 169.2,476.5 169.2,475.567 166.633,475.567 166.633,474.633 164.067,474.633 164.067,473.7 161.5,473.7 161.5,472.475 158.625,472.475 158.625,471.25 155.75,471.25 155.75,470.025 152.875,470.025 152.875,468.8 150,468.8 150,467.35 147,467.35 147,465.9 144,465.9 144,464.45 141,464.45 141,463 138,463 138,462.333 135.333,462.333 135.333,461.667 132.667,461.667 132.667,461 130,461 130,460.333 127.333,460.333 127.333,459.667 124.667,459.667 124.667,459 122,459 122,457.5 120,457.5 120,456 118,456 118,454.5 115.5,454.5 115.5,453 113,453 113,451.5 110.5,451.5 110.5,450 108,450 108,448.75 105.5,448.75 105.5,447.5 103,447.5 103,446.25 100.5,446.25 100.5,445 98,445 98,443.75 95.5,443.75 95.5,442.5 93,442.5 93,441.25 90.5,441.25 90.5,440 88,440 88,438.5 85.5,438.5 85.5,437 83,437 83,435.5 80.5,435.5 80.5,434 78,434 78,426 76,426 76,422 73,422 73,418 70,418 70,415 67,415 67,412 64,412 64,408.5 62.3,408.5" fill="#ececec"/>
<polyline points="62.3,408.5 64,409 67,409 67,410.5 70,410.5 70,412 73,412 73,414 76,414 76,416 78,416 78,418 80,418 80,420 82.6667,420 82.6667,421.333 85.3333,421.333 85.3333,422.667 88,422.667 88,424 90.5,424 90.5,424.75 93,424.75 93,425.5 95.5,425.5 95.5,426.25 98,426.25 98,427 100.5,427 100.5,428 103,428 103,429 105.5,429 105.5,430 108,430 108,431 110.5,431 110.5,431.75 113,431.75 113,432.5 115.5,432.5 115.5,433.25 118,433.25 118,434 120.667,434 120.667,435.667 123.333,435.667 123.333,437.333 126,437.333 126,439 129,439.5 132,440 135,440.5 138,441 140.667,441 140.667,442 143.333,442 143.333,443 146,443 146,444 148,444 148,444.9 150,444.9 150,445.8 152.875,445.8 152.875,447 155.75,447 155.75,448.2 158.625,448.2 158.625,449.4 161.5,449.4 161.5,450.6 164.067,450.6 164.067,451.567 166.633,451.567 166.633,452.533 169.2,452.533 169.2,453.5 172.1,453.975 175,454.45 177.9,454.925 180.8,455.4 183.367,455.4 183.367,456.367 185.933,456.367 185.933,457.333 188.5,457.333 188.5,458.3 191,458.3 191,459.533 193.5,459.533 193.5,460.767 196,460.767 196,462 198.6,462 198.6,462.667 201.2,462.667 201.2,463.333 203.8,463.333 203.8,464 206.7,464 206.7,464.75 209.6,464.75 209.6,465.5 212.5,465.5 212.5,466.25 215.4,466.25 215.4,467 218.3,467 218.3,467.95 221.2,467.95 221.2,468.9 224.1,468.9 224.1,469.85 227,469.85 227,470.8 229.533,470.8 229.533,472.067 232.067,472.067 232.067,473.333 234.6,473.333 234.6,474.6 237.167,474.933 239.733,475.267 242.3,475.6 244.867,475.9 247.433,476.2 250,476.5 253,476.5 253,477.75 256,477.75 256,479 264,479.5 267,479.5 267,481.75 270,481.75 270,484 273,484.5 276,485 279,485.5 282,486 284.5,486 284.5,486.75 287,486.75 287,487.5 289.5,487.5 289.5,488.25 292,488.25 292,489 295,489.5 298,490 301,490.5 304,491 306.5,491.5 309,492 311.5,492.5 314,493 316.667,493 316.667,493.667 319.333,493.667 319.333,494.333 322,494.333 322,495 324.667,495 324.667,495.667 327.333,495.667 327.333,496.333 330,496.333 330,497 332.5,497 332.5,498 335,498 335,499 337.5,499 337.5,500 340,500 340,501 343,501.5 346,502 349,502.5 352,503 360,503 360,503.6 373,503.6 375,503.6 375,507 390,507 390,507.6 393,507.6 393,510 395.5,510.25 398,510.5 400.5,510.75 403,511 405,511 405,513 407,513 407,515 426,515 426,515.6 429,515.6 429,521 431.5,521 431.5,522.5 434,522.5 434,524 436,524 436,526.2 438,526.2 438,528.4 471.8,528.4 471.8,531.8 506.2,531.8" fill="none" stroke="#a4a4a4" stroke-width="1.5"/>
<polyline points="62.3,408.5 64,408.5 64,412 67,412 67,415 70,415 70,418 73,418 73,422 76,422 76,426 78,426 78,434 80.5,434 80.5,435.5 83,435.5 83,437 85.5,437 85.5,438.5 88,438.5 88,440 90.5,440 90.5,441.25 93,441.25 93,442.5 95.5,442.5 95.5,443.75 98,443.75 98,445 100.5,445 100.5,446.25 103,446.25 103,447.5 105.5,447.5 105.5,448.75 108,448.75 108,450 110.5,450 110.5,451.5 113,451.5 113,453 115.5,453 115.5,454.5 118,454.5 118,456 120,456 120,457.5 122,457.5 122,459 124.667,459 124.667,459.667 127.333,459.667 127.333,460.333 130,460.333 130,461 132.667,461 132.667,461.667 135.333,461.667 135.333,462.333 138,462.333 138,463 141,463 141,464.45 144,464.45 144,465.9 147,465.9 147,467.35 150,467.35 150,468.8 152.875,468.8 152.875,470.025 155.75,470.025 155.75,471.25 158.625,471.25 158.625,472.475 161.5,472.475 161.5,473.7 164.067,473.7 164.067,474.633 166.633,474.633 166.633,475.567 169.2,475.567 169.2,476.5 172.1,476.5 172.1,477.475 175,477.475 175,478.45 177.9,478.45 177.9,479.425 180.8,479.425 180.8,480.4 183.367,480.4 183.367,481.667 185.933,481.667 185.933,482.933 188.5,482.933 188.5,484.2 191,484.2 191,485.467 193.5,485.467 193.5,486.733 196,486.733 196,488 198.6,488 198.6,489 201.2,489 201.2,490 203.8,490 203.8,491 206.7,491 206.7,491.7 209.6,491.7 209.6,492.4 212.5,492.4 212.5,493.1 215.4,493.1 215.4,493.8 218.3,493.8 218.3,494.775 221.2,494.775 221.2,495.75 224.1,495.75 224.1,496.725 227,496.725 227,497.7 229.533,497.7 229.533,499.3 232.067,499.3 232.067,500.9 234.6,500.9 234.6,502.5 237.167,502.833 239.733,503.167 242.3,503.5 244.867,503.8 247.433,504.1 250,504.4 253,504.4 253,506.2 256,506.2 256,508 258.667,508.333 261.333,508.667 264,509 266,509.5 268,510 270.667,510 270.667,511 273.333,511 273.333,512 276,512 276,513 278.5,513 278.5,514 281,514 281,515 283.5,515 283.5,516 286,516 286,517 288.5,517 288.5,517.75 291,517.75 291,518.5 293.5,518.5 293.5,519.25 296,519.25 296,520 298.5,520 298.5,520.75 301,520.75 301,521.5 303.5,521.5 303.5,522.25 306,522.25 306,523 309,523.5 312,524 315,524.5 318,525 320.5,525 320.5,526 323,526 323,527 325.5,527 325.5,528 328,528 328,529 330.667,529 330.667,530.333 333.333,530.333 333.333,531.667 336,531.667 336,533 338.667,533 338.667,533.667 341.333,533.667 341.333,534.333 344,534.333 344,535 346.8,535.4 349.6,535.8 352.4,536.2 355.2,536.6 358,537 361,537.5 364,538 373,538 373,538.6 375,538.6 375,541.6 392,541.6 392,542.4 395,542.4 395,546 397.667,546.333 400.333,546.667 403,547 405,547 405,549.5 407,549.5 407,552 409.857,552.143 412.714,552.286 415.571,552.429 418.429,552.571 421.286,552.714 424.143,552.857 427,553 429,553 429,559 431.5,559 431.5,562 434,562 434,565 436,565 436,567.5 438,567.5 438,570 471.8,570 471.8,575.6 506.2,575.6" fill="none" stroke="#a4a4a4" stroke-width="1.5"/>
<polyline points="62.3,408.5 66,408.5 66,409.6 68,409.6 68,412.3 70,412.3 70,415 72,415 72,416.3 74,416.3 74,417.6 76,417.6 76,419.8 78,419.8 78,422 80,422 80,424.5 82,424.5 82,427 85,427 85,429 88,429 88,431 90.5,431 90.5,432 93,432 93,433 95.5,433 95.5,434 98,434 98,435 100.5,435 100.5,436.25 103,436.25 103,437.5 105.5,437.5 105.5,438.75 108,438.75 108,440 110.5,440 110.5,440.75 113,440.75 113,441.5 115.5,441.5 115.5,442.25 118,442.25 118,443 121,443 121,445.5 124,445.5 124,448 126.5,448 126.5,448.75 129,448.75 129,449.5 131.5,449.5 131.5,450.25 134,450.25 134,451 136.5,451.5 139,452 141.5,452.5 144,453 147,453 147,454.65 150,454.65 150,456.3 152.567,456.3 152.567,457.6 155.133,457.6 155.133,458.9 157.7,458.9 157.7,460.2 160.267,460.533 162.833,460.867 165.4,461.2 167.933,461.2 167.933,462.8 170.467,462.8 170.467,464.4 173,464.4 173,466 175.6,466 175.6,466.933 178.2,466.933 178.2,467.867 180.8,467.867 180.8,468.8 183.367,468.8 183.367,469.767 185.933,469.767 185.933,470.733 188.5,470.733 188.5,471.7 191,471.7 191,473 193.5,473 193.5,474.3 196,474.3 196,475.6 198.6,475.6 198.6,476.567 201.2,476.567 201.2,477.533 203.8,477.533 203.8,478.5 206.367,478.5 206.367,479.133 208.933,479.133 208.933,479.767 211.5,479.767 211.5,480.4 214,480.4 214,481.033 216.5,481.033 216.5,481.667 219,481.667 219,482.3 221.667,482.3 221.667,482.933 224.333,482.933 224.333,483.567 227,483.567 227,484.2 229.533,484.2 229.533,485.467 232.067,485.467 232.067,486.733 234.6,486.733 234.6,488 237.167,488.533 239.733,489.067 242.3,489.6 244.867,490.067 247.433,490.533 250,491 253,491 253,492 256,492 256,493 258.667,493.333 261.333,493.667 264,494 266,494 266,495.2 268,495.2 268,496.4 271,496.8 274,497.2 277,497.6 280,498 283,498 283,499 286,499 286,500 288.667,500 288.667,501 291.333,501 291.333,502 294,502 294,503 297,503 297,503.65 300,503.65 300,504.3 303,504.3 303,504.95 306,504.95 306,505.6 308.5,505.6 308.5,506.2 311,506.8 313.5,507.4 316,507.4 316,508 318.5,508.5 321,509 323.5,509.5 326,510 329,510 329,511.5 332,511.5 332,513 335,513 335,514.5 338,514.5 338,516 340.667,516 340.667,516.667 343.333,516.667 343.333,517.333 346,517.333 346,518 349,518.25 352,518.5 355,518.75 358,519 361,519.5 364,520 372,520 375,520 375,523.6 390,524 392,524 392,526.4 394.75,526.8 397.5,527.2 400.25,527.6 403,528 405,528 405,530.2 407,530.2 407,532.4 426,532.4 426,533 428,533 428,538 431,538 431,542 433,542 433,543 435,543 435,544 438,544 438,548.4 471.8,548.4 471.8,553.8 506.2,553.8" fill="none" stroke="#4c4c4c" stroke-width="1.7"/>
<rect x="54.2" y="400.9" width="464.90000000000003" height="284.4" fill="none" stroke="#141414" stroke-width="1.3"/>
<line x1="49.2" y1="408.50" x2="54.2" y2="408.50" stroke="#141414" stroke-width="1.3"/>
<g transform="translate(42.5,408.90) rotate(-90)"><path d="M515,0L515,1237L197,1010L197,1180L530,1409L696,1409L696,0Z" transform="translate(-12.65,0) scale(0.00635,-0.00635)" class="tlp"/><text x="-5.42" y="0" class="tl">.00</text></g>
<line x1="49.2" y1="475.70" x2="54.2" y2="475.70" stroke="#141414" stroke-width="1.3"/>
<g transform="translate(42.5,476.10) rotate(-90)"><text x="-12.65" y="0" class="tl">0.75</text></g>
<line x1="49.2" y1="542.90" x2="54.2" y2="542.90" stroke="#141414" stroke-width="1.3"/>
<g transform="translate(42.5,543.30) rotate(-90)"><text x="-12.65" y="0" class="tl">0.50</text></g>
<line x1="49.2" y1="610.10" x2="54.2" y2="610.10" stroke="#141414" stroke-width="1.3"/>
<g transform="translate(42.5,610.50) rotate(-90)"><text x="-12.65" y="0" class="tl">0.25</text></g>
<line x1="49.2" y1="677.30" x2="54.2" y2="677.30" stroke="#141414" stroke-width="1.3"/>
<g transform="translate(42.5,677.70) rotate(-90)"><text x="-12.65" y="0" class="tl">0.00</text></g>
<line x1="62.30" y1="685.3" x2="62.30" y2="690.8" stroke="#141414" stroke-width="1.3"/>
<text x="62.30" y="702.6" text-anchor="middle" class="tl">0</text>
<line x1="211.93" y1="685.3" x2="211.93" y2="690.8" stroke="#141414" stroke-width="1.3"/>
<text x="211.93" y="702.6" text-anchor="middle" class="tl">20</text>
<line x1="361.57" y1="685.3" x2="361.57" y2="690.8" stroke="#141414" stroke-width="1.3"/>
<text x="361.57" y="702.6" text-anchor="middle" class="tl">40</text>
<line x1="511.20" y1="685.3" x2="511.20" y2="690.8" stroke="#141414" stroke-width="1.3"/>
<text x="511.20" y="702.6" text-anchor="middle" class="tl">60</text>
<text x="286.7" y="717.3" text-anchor="middle" class="tl">Months to death following initial infusion therapy</text>
<text x="0.5" y="396" class="pl">B</text>
<text x="53.62" y="746" class="rk">3</text><path d="M515,0L515,1237L197,1010L197,1180L530,1409L696,1409L696,0Z" transform="translate(59.41,746) scale(0.00508,-0.00508)" class="rkp"/><text x="65.19" y="746" class="rk">9</text>
<path d="M515,0L515,1237L197,1010L197,1180L530,1409L696,1409L696,0Z" transform="translate(203.22,746) scale(0.00508,-0.00508)" class="rkp"/><text x="209.01" y="746" class="rk">85</text>
<text x="355.72" y="746" class="rk">82</text>
<text x="505.42" y="746" class="rk">22</text>
</svg>
</body></html>
